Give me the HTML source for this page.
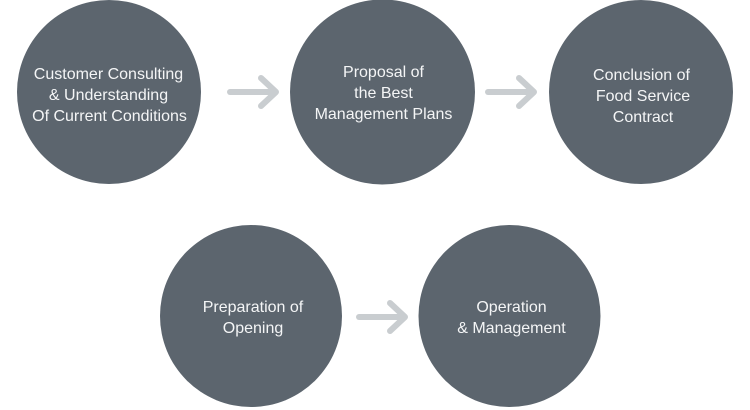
<!DOCTYPE html>
<html>
<head>
<meta charset="utf-8">
<style>
  html,body{margin:0;padding:0;background:#ffffff;}
  body{width:750px;height:410px;overflow:hidden;}
  svg{display:block;}
  text{font-family:"Liberation Sans",sans-serif;font-size:16px;fill:#f4f5f6;}
</style>
</head>
<body>
<svg width="750" height="410" viewBox="0 0 750 410" xmlns="http://www.w3.org/2000/svg">
  <g fill="#5c656e">
    <circle cx="109" cy="92" r="92"/>
    <circle cx="382.5" cy="92" r="92.5"/>
    <circle cx="641" cy="92" r="92"/>
    <circle cx="251" cy="316" r="91"/>
    <circle cx="509.5" cy="316" r="91"/>
  </g>

  <g stroke="#c9cdd0" stroke-width="6" stroke-linecap="round" stroke-linejoin="round" fill="none">
    <line x1="230" y1="92" x2="275" y2="92"/>
    <polyline points="261,78 276,92 261,106"/>
    <line x1="488" y1="92" x2="533" y2="92"/>
    <polyline points="519,78 534,92 519,106"/>
    <line x1="359" y1="317" x2="404" y2="317"/>
    <polyline points="390,303 405,317 390,331"/>
  </g>

  <g text-anchor="middle">
    <text x="108.5" y="79">Customer Consulting</text>
    <text x="108.5" y="100">&amp; Understanding</text>
    <text x="109.5" y="121">Of Current Conditions</text>

    <text x="383.5" y="77">Proposal of</text>
    <text x="383.5" y="98">the Best</text>
    <text x="383.5" y="119">Management Plans</text>

    <text x="641.5" y="80">Conclusion of</text>
    <text x="643" y="101">Food Service</text>
    <text x="643" y="122">Contract</text>

    <text x="253" y="312">Preparation of</text>
    <text x="253" y="333">Opening</text>

    <text x="511.5" y="312">Operation</text>
    <text x="511.5" y="333">&amp; Management</text>
  </g>
</svg>
</body>
</html>
